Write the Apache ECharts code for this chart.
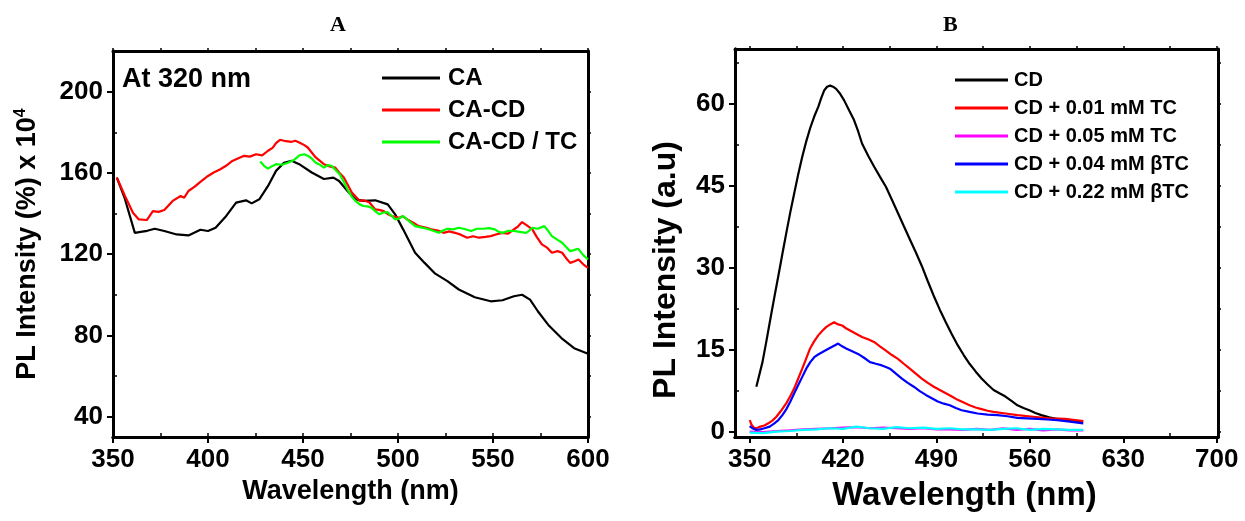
<!DOCTYPE html>
<html lang="en" style="height: 100%">
<head>
  <meta charset="utf-8">
</head>
<body style="height: 100%; margin: 0; background: #fff">
  <div id="container" style="width: 1245px; height: 521px"></div>

  <script type="text/javascript" src="https://cdn.jsdelivr.net/npm/echarts@6/dist/echarts.min.js"></script>

  <script type="text/javascript">
    // ---- panel A : excitation at 320 nm ----
    var caData = [[352,157.7],[356,148],[361.5,130.5],[364.6,131],[368,131.5],[372,132.5],[377,131.4],[383.5,129.7],[389.7,129.2],[396,132],[400,131.4],[404,133],[409.6,138.8],[414.8,145.4],[420,146.5],[423,145],[427,147],[431.6,153.6],[435.8,161],[440,165],[444,166],[448,164.3],[454.6,160.2],[461,157],[466,157.7],[469,156],[473.4,151.1],[477.6,147],[481.8,146.2],[488,146.5],[494.6,144.5],[498.5,139.6],[502.7,132.2],[509,120.7],[514,115.7],[519.6,110.4],[526,106.7],[532,102.6],[540.4,98.8],[548.8,96.8],[555,97.3],[561,99.3],[565.3,100],[569.5,97.6],[573.6,91.9],[579,85.3],[586,78.7],[592.7,73.7],[600,71]];
    var cacdData = [[352,157.7],[356.3,148.6],[360.5,140.4],[363.6,137.1],[367.8,136.8],[371,141.2],[374,140.8],[377,141.7],[381.4,146.2],[385.6,148.6],[387.5,147.8],[389.7,151.1],[393,153.2],[396,155.6],[400,158.5],[403,160.2],[406.5,161.8],[409.5,163.5],[412.8,165.9],[416,167.2],[419,168.4],[422,168],[425.3,169.2],[428.5,168.6],[431.6,170.9],[434,172.3],[435.8,174.7],[437.9,176.3],[441,175.6],[444,175.3],[446,175.8],[448,175],[450.5,173.8],[452.5,172.5],[456.7,167.6],[461,164.3],[464,163.2],[467,162.6],[469,160.2],[471.5,157.7],[475.7,150.3],[479.9,146.2],[482,146.5],[485,145.4],[488,142],[490,141.8],[492.5,141.2],[494.5,139.8],[496.7,138.8],[500.6,137.9],[502.5,138.6],[504.9,137.1],[508,135.5],[511,133.8],[514.5,133.1],[517.6,132.2],[521,131.6],[524,130.5],[527,131.2],[530,130.5],[533,129.6],[536.4,128.1],[539.5,128.8],[542.7,128.1],[546,128.5],[548.8,128.9],[552,129.8],[555,130.5],[558,130.1],[561,132.2],[563,133.5],[565.3,135.8],[568,134],[570.7,132.2],[573,128.5],[575.7,124.8],[578.5,123.2],[581,120.7],[584,121.5],[586.4,120.7],[588.5,118],[590.6,115.7],[593,116.5],[595,117.4],[597.5,115],[600,113.2]];
    var cacdTcData = [[427.5,165.6],[429.5,163.5],[431.6,162.1],[433.5,163.2],[435.8,164.3],[439,164],[442,165],[445,166.2],[448.3,168.7],[450.5,169.2],[452.5,168.4],[454.5,167.2],[456.7,165],[459,164],[461,162.6],[463,163.8],[465,163.5],[467,161.5],[469.3,159.3],[471.5,155.5],[473.4,151.9],[475.5,148.5],[477.6,146.2],[479.8,144.5],[481.8,143.7],[484,143.5],[486,142.9],[488,141.2],[490.2,139.6],[492.3,140.5],[494.4,140.7],[496.5,139],[498.5,137.1],[500.5,137.5],[502.7,138.8],[505.5,136.5],[509,133.8],[512,133.2],[515.3,132.5],[518.5,131.5],[521.5,130.5],[524,131.8],[526,132.5],[529,132.2],[532,133],[535,132.4],[538.5,131.4],[541.5,132.5],[544.8,132.5],[548,132.8],[551,132.2],[553,131],[555.2,130.5],[558,131.5],[561,131.4],[564,131],[567.4,130.5],[569,131.5],[570.7,133],[573.5,132.5],[577,133.8],[579,131.5],[581,128.9],[584,127],[586.4,125.6],[588.5,123.5],[590.6,121.5],[592.5,122],[594.8,122.7],[597.5,119.5],[600,117.4]];

    // ---- panel B : CD quenching ----
    var cdData = [[355,8.2],[359.6,12.7],[362.5,16.5],[365.5,20.6],[368.5,24.6],[371.5,28.5],[374.5,32.5],[377.5,36.4],[380.5,40.2],[383.4,43.6],[386.4,47.1],[389.4,50.3],[392.4,53.1],[395.3,55.5],[398.3,57.6],[401.4,59.4],[403.6,61],[405.8,62.4],[408,63.1],[410.3,63.3],[412.5,63.1],[414.8,62.7],[417.8,61.8],[420.8,60.6],[424.5,58.8],[428.2,57],[431.2,55],[434.2,52.7],[438.7,50.5],[443.2,48.5],[447.7,46.6],[452.1,44.8],[456.6,42.4],[461.1,40],[465.5,37.6],[470,35.2],[474.5,32.8],[479,30.3],[483.5,27.5],[488,24.8],[492.5,22.3],[497,20],[501.5,17.8],[505.9,15.8],[510.4,14],[514.8,12.4],[519.3,11],[523.8,9.7],[528.3,8.6],[532.8,7.6],[537.2,7],[541.7,6.4],[546.2,5.6],[550.7,4.8],[555.2,4.3],[559.6,3.9],[564.1,3.4],[568.6,3],[574.5,2.6],[580.5,2.3],[585,2.2],[589.5,2.1],[595,1.9],[600,1.8]];
    var tc001Data = [[350,2.1],[351.5,1.2],[353.6,0.6],[356,0.7],[358,0.9],[361,1.1],[364,1.5],[367,2],[370,2.7],[373.5,3.8],[377.5,5.2],[380.5,6.5],[383.4,7.9],[386.4,9.7],[389.4,11.5],[392.4,13.4],[395.3,15.2],[398.3,16.5],[401.4,17.6],[404.3,18.4],[407.3,19.1],[410.3,19.6],[413.3,20],[416.3,19.6],[419.3,19.4],[422.2,18.9],[425.2,18.5],[429.7,17.9],[434.2,17.3],[438.7,16.9],[443.2,16.4],[447.6,15.6],[452.1,14.8],[456.6,14],[461.1,13.3],[465.5,12.4],[470,11.5],[474.5,10.6],[479,9.7],[483.5,8.9],[488,8.2],[492.5,7.6],[497,7],[501.5,6.4],[505.9,5.8],[510.4,5.3],[514.8,4.8],[519.3,4.4],[523.8,4.1],[528.3,3.8],[532.8,3.6],[541.7,3.3],[550.7,3],[562.6,2.7],[574.6,2.4],[586.5,2.3],[600,1.9]];
    var tc005Data = [[350,0],[360,-0.1],[370,0.1],[380,0.2],[390,0.4],[400,0.5],[410,0.6],[420,0.7],[430,0.8],[440,0.6],[450,0.7],[460,0.6],[470,0.5],[480,0.6],[490,0.4],[500,0.4],[510,0.3],[520,0.5],[530,0.3],[540,0.6],[550,0.3],[560,0.5],[570,0.2],[580,0.4],[590,0.2],[600,0.2]];
    var btc004Data = [[350,1],[352,0.6],[355,0.3],[358,0.4],[361,0.6],[365,0.9],[368.5,1.5],[371.5,2.1],[374.5,3],[377.5,4.1],[380.5,5.5],[383.4,7],[386.4,8.5],[389.4,10],[392.4,11.5],[395.4,12.7],[398.4,13.6],[401.3,14.1],[404.3,14.5],[408,15],[411.8,15.5],[414,15.8],[416.3,16.1],[419.3,15.6],[422.3,15.2],[426.8,14.7],[431.2,14.2],[435.7,13.5],[440.2,12.7],[444.6,12.4],[449.1,12.1],[452.1,11.8],[455.1,11.5],[459.6,10.6],[464.1,9.7],[468.5,8.9],[473,8.2],[477.5,7.4],[482,6.7],[486.5,6.1],[491,5.5],[495.5,5.1],[500,4.8],[504.5,4.3],[508.9,3.9],[514.8,3.6],[520.8,3.3],[528.3,3.1],[535.8,3],[543.2,2.8],[550.7,2.5],[558.1,2.4],[565.6,2.3],[573,2.2],[580.5,2.1],[590,1.8],[600,1.5]];
    var btc022Data = [[350,-0.2],[360,-0.3],[370,0],[380,0.1],[390,0.3],[400,0.4],[410,0.6],[420,0.5],[430,0.9],[440,0.6],[450,0.5],[460,0.8],[470,0.6],[480,0.7],[490,0.5],[500,0.6],[510,0.4],[520,0.4],[530,0.3],[540,0.5],[550,0.6],[560,0.3],[570,0.5],[580,0.4],[590,0.3],[600,0.3]];

    var namesA = ['CA', 'CA-CD', 'CA-CD / TC'];
    var namesB = ['CD', 'CD + 0.01 mM TC', 'CD + 0.05 mM TC', 'CD + 0.04 mM βTC', 'CD + 0.22 mM βTC'];

    // tick values
    var aYLabels = [40, 80, 120, 160, 200];
    var aYMinor = [60, 100, 140, 180];
    var aYRight = [40, 60, 80, 100, 120, 140, 160, 180, 200];
    var bXLabels = [350, 420, 490, 560, 630, 700];
    var bXMinor = [385, 455, 525, 595, 665];
    var bXTop = [350, 385, 420, 455, 490, 525, 560, 595, 630, 665, 700];
    var bYLabels = [0, 15, 30, 45, 60];
    var bYMinor = [7.5, 22.5, 37.5, 52.5, 67.5];
    var bYRight = [0, 7.5, 15, 22.5, 30, 37.5, 45, 52.5, 60, 67.5];

    var SANS = "'Liberation Sans', Arial, sans-serif";
    var SERIF = "'Liberation Serif', 'Times New Roman', serif";

    var dom = document.getElementById('container');
    var myChart = echarts.init(dom, null, { renderer: 'canvas' });

    var frameLine = { show: true, onZero: false, lineStyle: { color: '#000', width: 3 } };
    var tickLabel = { fontSize: 26, fontWeight: 'bold', color: '#000', fontFamily: SANS };

    function mainAxis(grid, pos, min, max, extra) {
      return Object.assign({
        type: 'value', gridIndex: grid, position: pos, min: min, max: max,
        axisLine: frameLine,
        axisTick: { show: true, inside: false, length: 6, lineStyle: { color: '#000', width: 2 } },
        axisLabel: Object.assign({ margin: 10 }, tickLabel),
        splitLine: { show: false }
      }, extra);
    }
    function plainAxis(grid, pos, min, max, inside, len, extra) {
      return Object.assign({
        type: 'value', gridIndex: grid, position: pos, min: min, max: max,
        axisLine: frameLine,
        axisTick: { show: true, inside: inside, length: len, lineStyle: { color: '#000', width: 1.5 } },
        axisLabel: { show: false },
        splitLine: { show: false }
      }, extra);
    }

    var option = {
      backgroundColor: '#fff',
      animation: false,
      grid: [
        { left: 113, top: 51, width: 475, height: 386 },
        { left: 735, top: 49, width: 483, height: 388 }
      ],
      graphic: [
        { type: 'text', left: 330, top: 14, style: { text: 'A', font: 'bold 22px ' + SERIF, fill: '#000' } },
        { type: 'text', left: 943, top: 14, style: { text: 'B', font: 'bold 22px ' + SERIF, fill: '#000' } },
        { type: 'text', left: 122, top: 66, style: { text: 'At 320 nm', font: 'bold 27px ' + SANS, fill: '#000' } }
      ],
      legend: [
        {
          data: namesA, left: 377, top: 61, orient: 'vertical', icon: 'rect',
          itemWidth: 58, itemHeight: 3, itemGap: 8,
          textStyle: { fontSize: 24, lineHeight: 24, fontWeight: 'bold', color: '#000', fontFamily: SANS, padding: [0, 0, 0, 3] }
        },
        {
          data: namesB, left: 950, top: 65, orient: 'vertical', icon: 'rect',
          itemWidth: 53, itemHeight: 3, itemGap: 8,
          textStyle: { fontSize: 20, lineHeight: 20, fontWeight: 'bold', color: '#000', fontFamily: SANS, padding: [0, 0, 0, 1] }
        }
      ],
      xAxis: [
        mainAxis(0, 'bottom', 350, 600, {
          interval: 50,
          name: 'Wavelength (nm)', nameLocation: 'middle', nameGap: 39,
          nameTextStyle: { fontSize: 27, fontWeight: 'bold', color: '#000', fontFamily: SANS }
        }),
        plainAxis(0, 'top', 350, 600, false, 3, { interval: 25 }),
        plainAxis(0, 'bottom', 350, 600, true, 4, { interval: 25 }),
        mainAxis(1, 'bottom', 339, 701, {
          axisTick: { show: true, inside: false, length: 6, customValues: bXLabels, lineStyle: { color: '#000', width: 2 } },
          axisLabel: Object.assign({ margin: 10, customValues: bXLabels }, tickLabel),
          name: 'Wavelength (nm)', nameLocation: 'middle', nameGap: 42,
          nameTextStyle: { fontSize: 33, fontWeight: 'bold', color: '#000', fontFamily: SANS, padding: [0, 24, 0, 0] }
        }),
        plainAxis(1, 'top', 339, 701, false, 3, {
          axisTick: { show: true, inside: false, length: 3, customValues: bXTop, lineStyle: { color: '#000', width: 1.5 } }
        }),
        plainAxis(1, 'bottom', 339, 701, true, 4, {
          axisTick: { show: true, inside: true, length: 4, customValues: bXMinor, lineStyle: { color: '#000', width: 1.5 } }
        })
      ],
      yAxis: [
        mainAxis(0, 'left', 30, 220, {
          axisTick: { show: true, inside: false, length: 6, customValues: aYLabels, lineStyle: { color: '#000', width: 2 } },
          axisLabel: Object.assign({ margin: 10, customValues: aYLabels }, tickLabel),
          name: 'PL Intensity (%) x 10{sup|4}', nameLocation: 'middle', nameGap: 70,
          nameTextStyle: {
            fontSize: 27, fontWeight: 'bold', color: '#000', fontFamily: SANS,
            rich: { sup: { fontSize: 16, fontWeight: 'bold', color: '#000', fontFamily: SANS, padding: [0, 0, 14, 0] } }
          }
        }),
        plainAxis(0, 'right', 30, 220, false, 3, {
          axisTick: { show: true, inside: false, length: 3, customValues: aYRight, lineStyle: { color: '#000', width: 1.5 } }
        }),
        plainAxis(0, 'left', 30, 220, true, 4, {
          axisTick: { show: true, inside: true, length: 4, customValues: aYMinor, lineStyle: { color: '#000', width: 1.5 } }
        }),
        mainAxis(1, 'left', -1, 70, {
          axisTick: { show: true, inside: false, length: 6, customValues: bYLabels, lineStyle: { color: '#000', width: 2 } },
          axisLabel: Object.assign({ margin: 10, customValues: bYLabels }, tickLabel),
          name: 'PL Intensity (a.u)', nameLocation: 'middle', nameGap: 53,
          nameTextStyle: { fontSize: 32, fontWeight: 'bold', color: '#000', fontFamily: SANS, padding: [0, 54, 0, 0] }
        }),
        plainAxis(1, 'right', -1, 70, false, 3, {
          axisTick: { show: true, inside: false, length: 3, customValues: bYRight, lineStyle: { color: '#000', width: 1.5 } }
        }),
        plainAxis(1, 'left', -1, 70, true, 4, {
          axisTick: { show: true, inside: true, length: 4, customValues: bYMinor, lineStyle: { color: '#000', width: 1.5 } }
        })
      ],
      series: [
        { name: namesA[0], data: caData, color: '#000000', xAxisIndex: 0, yAxisIndex: 0 },
        { name: namesA[1], data: cacdData, color: '#ff0000', xAxisIndex: 0, yAxisIndex: 0 },
        { name: namesA[2], data: cacdTcData, color: '#00ff00', xAxisIndex: 0, yAxisIndex: 0 },
        { name: namesB[0], data: cdData, color: '#000000', xAxisIndex: 3, yAxisIndex: 3 },
        { name: namesB[1], data: tc001Data, color: '#ff0000', xAxisIndex: 3, yAxisIndex: 3 },
        { name: namesB[2], data: tc005Data, color: '#ff00ff', xAxisIndex: 3, yAxisIndex: 3 },
        { name: namesB[3], data: btc004Data, color: '#0000ff', xAxisIndex: 3, yAxisIndex: 3 },
        { name: namesB[4], data: btc022Data, color: '#00ffff', xAxisIndex: 3, yAxisIndex: 3 }
      ].map(function (s) {
        return Object.assign({ type: 'line', showSymbol: false, symbol: 'none', lineStyle: { width: 2.2 } }, s);
      })
    };

    myChart.setOption(option);
    window.addEventListener('resize', myChart.resize);
  </script>
</body>
</html>
